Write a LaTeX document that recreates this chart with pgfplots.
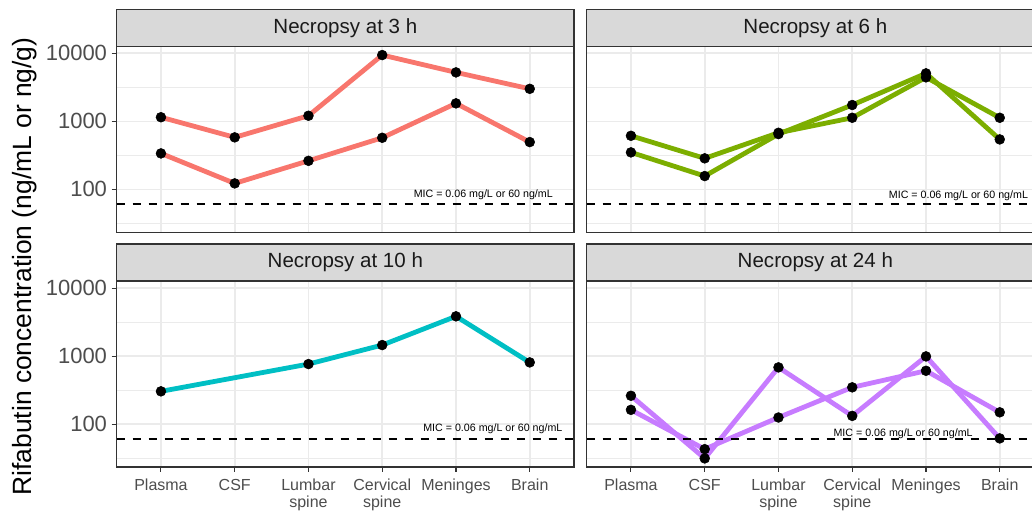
\documentclass[border=0pt]{standalone}
\usepackage{pgfplots}
\pgfplotsset{compat=1.18}
\usepackage{fontspec}
\setmainfont{Liberation Sans}
\definecolor{cthree}{HTML}{F8766D}
\definecolor{csix}{HTML}{7CAE00}
\definecolor{cten}{HTML}{00BFC4}
\definecolor{ctwf}{HTML}{C77CFF}
\definecolor{gridc}{HTML}{EBEBEB}
\definecolor{borderc}{HTML}{333333}
\definecolor{stripc}{HTML}{D9D9D9}
\definecolor{tickc}{HTML}{4D4D4D}
\definecolor{stript}{HTML}{1A1A1A}
\pgfplotsset{
  rkpanel/.style={
    scale only axis,
    width=342.975pt, height=139.5pt,
    xmin=-0.6, xmax=5.6,
    ymin=23.4, ymax=12700,
    xtick={0,1,2,3,4,5},
    ytick={100,1000,10000},
    yticklabels={100,1000,10000},
    minor ytick={31.62,316.2,3162},
    xtick pos=bottom, ytick pos=left,
    xmajorgrids, ymajorgrids, yminorgrids,
    major grid style={gridc, line width=1.3pt},
    minor grid style={gridc, line width=0.75pt},
    axis line style={borderc, line width=0.8pt},
    tick align=outside,
    major tick length=3.75pt,
    minor tick length=0pt,
    tick style={borderc, line width=0.8pt},
    xticklabel style={font=\fontsize{12}{12.4}\selectfont, text=tickc, align=center, yshift=-2pt},
    yticklabel style={font=\fontsize{16.5}{17}\selectfont, text=tickc},
  },
  rkpts/.style={only marks, mark=*, mark size=3.7pt, black, mark options={fill=black}},
  rkln/.style={line width=3.6pt, line join=round},
  rkmic/.style={black, line width=1.5pt, dash pattern=on 6pt off 6pt},
}
\begin{document}
\begin{tikzpicture}
% ---------- top left: 3 h
\begin{semilogyaxis}[rkpanel, name=tl, at={(87.525pt,210.525pt)}, anchor=south west, xmajorticks=false]
\addplot[rkpts] coordinates {(0,1150) (1,582) (2,1210) (3,9440) (4,5250) (5,3010)};
\addplot[rkpts] coordinates {(0,338) (1,122.5) (2,263) (3,574) (4,1840) (5,496)};
\addplot[cthree, rkln] coordinates {(0,1150) (1,582) (2,1210) (3,9440) (4,5250) (5,3010)};
\addplot[cthree, rkln] coordinates {(0,338) (1,122.5) (2,263) (3,574) (4,1840) (5,496)};
\addplot[rkmic] coordinates {(-0.6,60) (5.6,60)};
\node[font=\fontsize{8}{8}\selectfont] at (axis cs:4.37,84) {MIC = 0.06 mg/L or 60 ng/mL};
\end{semilogyaxis}
% ---------- top right: 6 h
\begin{semilogyaxis}[rkpanel, name=tr, at={(440.025pt,210.525pt)}, anchor=south west, xmajorticks=false, ymajorticks=false]
\addplot[rkpts] coordinates {(0,614) (1,286) (2,680) (3,1130) (4,4440) (5,1130)};
\addplot[rkpts] coordinates {(0,350) (1,157) (2,650) (3,1740) (4,5080) (5,543)};
\addplot[csix, rkln] coordinates {(0,614) (1,286) (2,680) (3,1130) (4,4440) (5,1130)};
\addplot[csix, rkln] coordinates {(0,350) (1,157) (2,650) (3,1740) (4,5080) (5,543)};
\addplot[rkmic] coordinates {(-0.6,60) (5.6,60)};
\node[font=\fontsize{8}{8}\selectfont] at (axis cs:4.44,80) {MIC = 0.06 mg/L or 60 ng/mL};
\end{semilogyaxis}
% ---------- bottom left: 10 h
\begin{semilogyaxis}[rkpanel, name=bl, at={(87.525pt,34.5pt)}, anchor=south west,
  xticklabels={Plasma,CSF,{Lumbar\\spine},{Cervical\\spine},Meninges,Brain}]
\addplot[rkpts] coordinates {(0,303) (2,763) (3,1452) (4,3840) (5,807)};
\addplot[cten, rkln] coordinates {(0,303) (2,763) (3,1452) (4,3840) (5,807)};
\addplot[rkmic] coordinates {(-0.6,60) (5.6,60)};
\node[font=\fontsize{8}{8}\selectfont] at (axis cs:4.50,86) {MIC = 0.06 mg/L or 60 ng/mL};
\end{semilogyaxis}
% ---------- bottom right: 24 h
\begin{semilogyaxis}[rkpanel, name=br, at={(440.025pt,34.5pt)}, anchor=south west, ymajorticks=false,
  xticklabels={Plasma,CSF,{Lumbar\\spine},{Cervical\\spine},Meninges,Brain}]
\addplot[rkpts] coordinates {(0,261) (1,31.3) (2,682) (3,132) (4,989) (5,61.6)};
\addplot[rkpts] coordinates {(0,162) (1,42.8) (2,125) (3,347) (4,608) (5,149)};
\addplot[ctwf, rkln] coordinates {(0,261) (1,31.3) (2,682) (3,132) (4,989) (5,61.6)};
\addplot[ctwf, rkln] coordinates {(0,162) (1,42.8) (2,125) (3,347) (4,608) (5,149)};
\addplot[rkmic] coordinates {(-0.6,60) (5.6,60)};
\node[font=\fontsize{8}{8}\selectfont] at (axis cs:3.69,73) {MIC = 0.06 mg/L or 60 ng/mL};
\end{semilogyaxis}
% ---------- strips
\foreach \ax/\lab in {tl/Necropsy at 3 h, tr/Necropsy at 6 h, bl/Necropsy at 10 h, br/Necropsy at 24 h}{
  \draw[fill=stripc, draw=borderc, line width=0.8pt] (\ax.north west) rectangle ([yshift=27.75pt]\ax.north east);
  \node[font=\fontsize{15.4}{16}\selectfont, text=stript] at ([yshift=13.9pt]\ax.north) {\lab};
}
% ---------- y label
\node[rotate=90, font=\fontsize{19.8}{21}\selectfont] at (18.75pt,184.9pt) {Rifabutin concentration (ng/mL or ng/g)};
\pgfresetboundingbox
\useasboundingbox (0pt,0pt) rectangle (774pt,384.75pt);
\end{tikzpicture}
\end{document}
